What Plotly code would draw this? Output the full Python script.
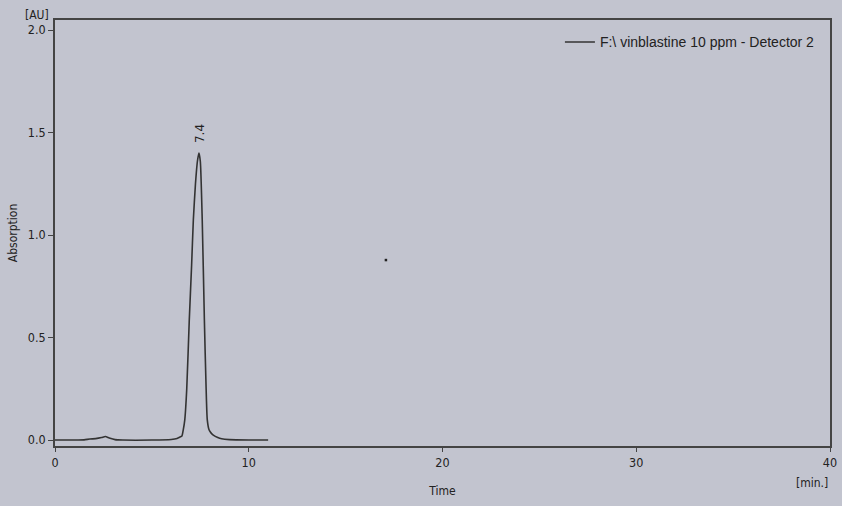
import plotly.graph_objects as go

# Chromatogram: time [min] vs absorbance [AU]
time_min = [0.0, 1.0, 1.5, 1.8, 2.1, 2.4, 2.6, 2.8, 3.1, 3.5, 5.0, 6.0, 6.3,
            6.45, 6.55, 6.62, 6.7, 6.8, 6.93, 7.05, 7.14, 7.25, 7.35, 7.43,
            7.5, 7.6, 7.71, 7.8, 7.86, 7.95, 8.05, 8.17, 8.4, 8.6, 9.0, 10.0, 11.0]
absorb_au = [0.0, 0.0, 0.001, 0.005, 0.007, 0.012, 0.017, 0.010, 0.002, 0.0, 0.0, 0.003, 0.008,
             0.015, 0.020, 0.050, 0.10, 0.25, 0.585, 0.85, 1.073, 1.25, 1.36, 1.40,
             1.36, 1.07, 0.585, 0.25, 0.098, 0.050, 0.035, 0.024, 0.012, 0.006, 0.002, 0.0, 0.0]

peak_time = [7.43]
peak_height = [1.40]
peak_label = ["7.4"]

artifact_t = [17.08]
artifact_y = [0.878]

x_ticks = [0, 10, 20, 30, 40]
y_ticks = [0.0, 0.5, 1.0, 1.5, 2.0]
y_tick_text = ["0.0", "0.5", "1.0", "1.5", "2.0"]

series_name = "F:\\ vinblastine 10 ppm - Detector 2"

bg = "#c2c4cf"
ink = "#333333"

fig = go.Figure()
fig.add_trace(go.Scatter(x=time_min, y=absorb_au, mode="lines", name=series_name,
                         line=dict(color=ink, width=1.6, shape="spline", smoothing=0.6)))
fig.add_trace(go.Scatter(x=artifact_t, y=artifact_y, mode="markers", showlegend=False,
                         marker=dict(color="#222222", size=2.5, symbol="square")))

for t, h, lab in zip(peak_time, peak_height, peak_label):
    fig.add_annotation(x=t, y=h, text=lab, showarrow=False, textangle=-90,
                       yshift=20, xshift=1, font=dict(family="DejaVu Sans", size=12, color="#222"))

fig.add_annotation(xref="paper", yref="paper", x=-0.005, y=1.0, xanchor="right", yanchor="bottom",
                   text="[AU]", showarrow=False, yshift=-4,
                   font=dict(family="DejaVu Sans Condensed, DejaVu Sans", size=12, color="#222"))
fig.add_annotation(xref="paper", yref="paper", x=1.0, y=0, xanchor="right", yanchor="top",
                   text="[min.]", showarrow=False, yshift=-28,
                   font=dict(family="DejaVu Sans Condensed, DejaVu Sans", size=12, color="#222"))

fig.update_layout(
    width=842, height=506,
    paper_bgcolor=bg, plot_bgcolor=bg,
    margin=dict(l=55, r=12, t=20, b=60, autoexpand=False),
    font=dict(family="DejaVu Sans Condensed, DejaVu Sans", size=12.5, color="#222"),
    showlegend=True,
    legend=dict(x=0.987, y=0.985, xanchor="right", yanchor="top", bgcolor="rgba(0,0,0,0)",
                font=dict(family="Liberation Sans, Arial", size=14, color="#222")),
    xaxis=dict(range=[0, 40], tickvals=x_ticks, showgrid=False, zeroline=False, automargin=False,
               showline=True, linecolor="#444", linewidth=1.5, mirror=True,
               ticks="outside", ticklen=4, tickcolor="#444",
               title=dict(text="Time", standoff=18, font=dict(size=12))),
    yaxis=dict(range=[-0.029, 2.049], tickvals=y_ticks, ticktext=y_tick_text,
               showgrid=False, zeroline=False, automargin=False,
               showline=True, linecolor="#444", linewidth=1.5, mirror=True,
               ticks="outside", ticklen=5, tickcolor="#444",
               title=dict(text="Absorption", standoff=8, font=dict(size=12))),
)

fig.write_html("out.html", config={"displayModeBar": False},
               post_script="document.body.style.margin='0';document.body.style.background='%s';" % bg)
